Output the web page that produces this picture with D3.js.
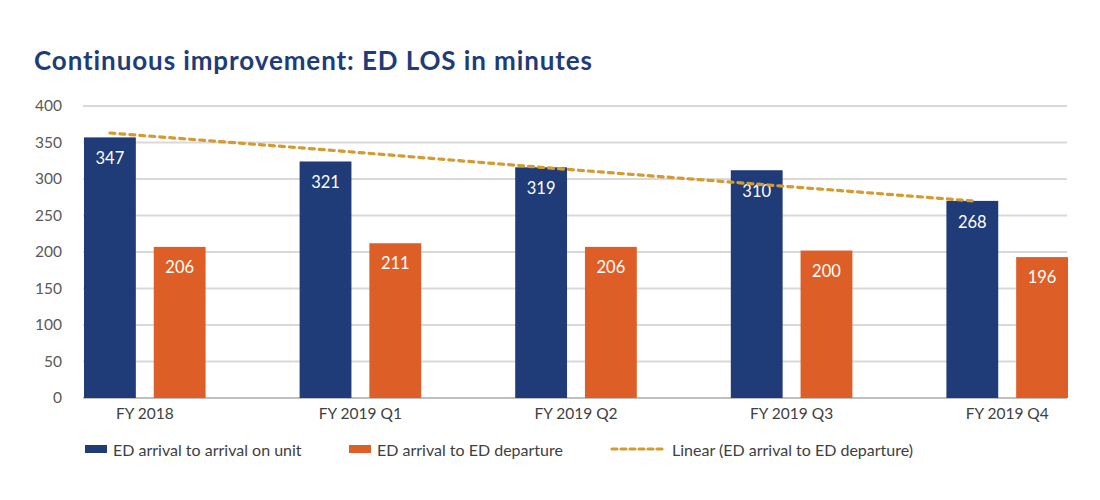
<!DOCTYPE html>
<html>
<head>
<meta charset="utf-8">
<script src="https://cdn.jsdelivr.net/npm/d3@7"></script>
<style>
  body { margin: 0; background: #fff; }
  svg text { font-family: Lato, "Open Sans", sans-serif; }
</style>
</head>
<body>
<div id="chart"></div>
<script>
// Data
const categories = ["FY 2018", "FY 2019 Q1", "FY 2019 Q2", "FY 2019 Q3", "FY 2019 Q4"];
const arrivalOnUnit = [357, 324, 316, 312, 270];
const arrivalOnUnitLabels = ["347", "321", "319", "310", "268"];
const edDeparture = [207, 212, 207, 202, 193];
const edDepartureLabels = ["206", "211", "206", "200", "196"];
const trendValues = [363, 340, 316, 293, 270];
const yTicks = [0, 50, 100, 150, 200, 250, 300, 350, 400];
const seriesNames = ["ED arrival to arrival on unit", "ED arrival to ED departure", "Linear (ED arrival to ED departure)"];

const blue = "#1f3c78";
const orange = "#dd5f27";
const gold = "#d39b30";

const svg = d3.select("#chart").append("svg")
  .attr("width", 1100)
  .attr("height", 500);

// Title
svg.append("text")
  .attr("x", 34)
  .attr("y", 70)
  .attr("fill", blue)
  .attr("font-size", 26)
  .attr("font-weight", "bold")
  .attr("letter-spacing", 0.9)
  .text("Continuous improvement: ED LOS in minutes");

// Scales
const x0 = d3.scaleBand()
  .domain(categories)
  .range([84, 1068])
  .paddingInner(0.436)
  .paddingOuter(0);

const x1 = d3.scaleBand()
  .domain(["unit", "dep"])
  .range([0, x0.bandwidth()])
  .paddingInner(0.257)
  .paddingOuter(0);

const y = d3.scaleLinear()
  .domain([0, 400])
  .range([398, 106]);

// Gridlines
svg.append("g")
  .selectAll("line")
  .data(yTicks)
  .enter().append("line")
  .attr("x1", 83)
  .attr("x2", 1067)
  .attr("y1", d => y(d))
  .attr("y2", d => y(d))
  .attr("stroke", d => d === 0 ? "#bfbfbf" : "#d9d9d9")
  .attr("stroke-width", 2);

// Y axis labels
const yAxis = svg.append("g")
  .attr("transform", "translate(62,0)")
  .call(d3.axisLeft(y).tickValues(yTicks).tickSize(0).tickPadding(0));
yAxis.select(".domain").remove();
yAxis.selectAll("text")
  .attr("font-family", "Lato, sans-serif")
  .attr("font-size", 15.5)
  .attr("fill", "#595959");

// Bars
const rows = categories.map((c, i) => ({
  cat: c,
  unit: arrivalOnUnit[i], unitLabel: arrivalOnUnitLabels[i],
  dep: edDeparture[i], depLabel: edDepartureLabels[i]
}));

const groups = svg.append("g")
  .selectAll("g")
  .data(rows)
  .enter().append("g")
  .attr("transform", d => `translate(${x0(d.cat)},0)`);

groups.append("rect")
  .attr("x", x1("unit"))
  .attr("width", x1.bandwidth())
  .attr("y", d => y(d.unit))
  .attr("height", d => y(0) - y(d.unit))
  .attr("fill", blue);

groups.append("rect")
  .attr("x", x1("dep"))
  .attr("width", x1.bandwidth())
  .attr("y", d => y(d.dep))
  .attr("height", d => y(0) - y(d.dep))
  .attr("fill", orange);

// Value labels inside bars
groups.append("text")
  .attr("x", x1("unit") + x1.bandwidth() / 2)
  .attr("y", d => y(d.unit) + 27)
  .attr("text-anchor", "middle")
  .attr("fill", "#fff")
  .attr("font-size", 16.5)
  .text(d => d.unitLabel);

groups.append("text")
  .attr("x", x1("dep") + x1.bandwidth() / 2)
  .attr("y", d => y(d.dep) + 26)
  .attr("text-anchor", "middle")
  .attr("fill", "#fff")
  .attr("font-size", 16.5)
  .text(d => d.depLabel);

// Trend line through blue bar centres
const line = d3.line()
  .x((d, i) => x0(categories[i]) + x1("unit") + x1.bandwidth() / 2)
  .y(d => y(d));

svg.append("path")
  .datum(trendValues)
  .attr("d", line)
  .attr("fill", "none")
  .attr("stroke", gold)
  .attr("stroke-width", 3.2)
  .attr("stroke-dasharray", "5 5")
  .attr("stroke-linecap", "round");

// Category labels
svg.append("g")
  .selectAll("text")
  .data(categories)
  .enter().append("text")
  .attr("x", d => x0(d) + x0.bandwidth() / 2)
  .attr("y", 419)
  .attr("text-anchor", "middle")
  .attr("font-size", 15.5)
  .attr("fill", "#404040")
  .text(d => d);

// Legend
const legendX = [85, 349, 610];
const legend = svg.append("g");

legend.append("rect")
  .attr("x", legendX[0]).attr("y", 445)
  .attr("width", 22).attr("height", 8)
  .attr("fill", blue);
legend.append("rect")
  .attr("x", legendX[1]).attr("y", 445)
  .attr("width", 22).attr("height", 8)
  .attr("fill", orange);
legend.append("line")
  .attr("x1", legendX[2] + 2).attr("x2", legendX[2] + 52)
  .attr("y1", 449).attr("y2", 449)
  .attr("stroke", gold)
  .attr("stroke-width", 3.2)
  .attr("stroke-dasharray", "5 4")
  .attr("stroke-linecap", "round");

const legendTextX = [113, 377, 672];
legend.selectAll(".legend-label")
  .data(seriesNames)
  .enter().append("text")
  .attr("class", "legend-label")
  .attr("x", (d, i) => legendTextX[i])
  .attr("y", 456)
  .attr("font-size", 16)
  .attr("fill", "#404040")
  .text(d => d);
</script>
</body>
</html>
